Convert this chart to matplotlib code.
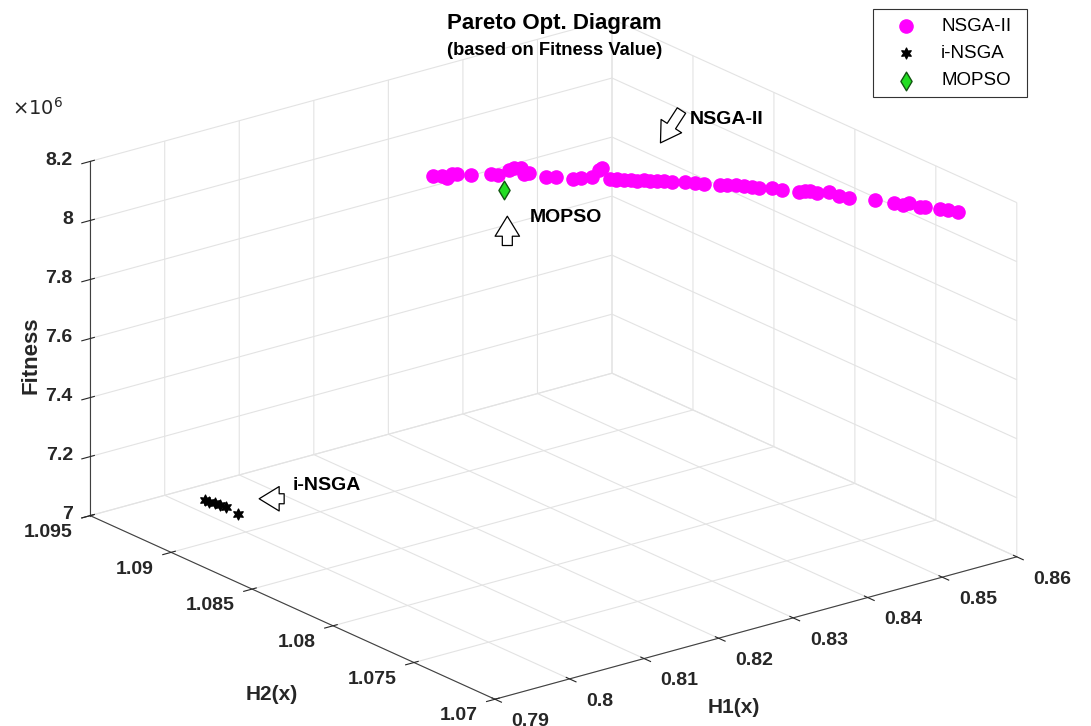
import matplotlib
matplotlib.use("Agg")
import matplotlib.pyplot as plt
from matplotlib.patches import FancyArrowPatch, Rectangle
from matplotlib.ticker import FuncFormatter

# NSGA-II pareto front (H1, H2, fitness)
nsga2_h1 = [0.8215, 0.8222, 0.8223, 0.8235, 0.8239, 0.8249, 0.8267, 0.8271, 0.8290, 0.8297,
            0.8302, 0.8295, 0.8301, 0.8308, 0.8316, 0.8327, 0.8334, 0.8346, 0.8364, 0.8372,
            0.8358, 0.8361, 0.8364, 0.8368, 0.8372, 0.8377, 0.8384, 0.8388, 0.8394, 0.8400,
            0.8403, 0.8414, 0.8421, 0.8427, 0.8439, 0.8444, 0.8451, 0.8457, 0.8462, 0.8465,
            0.8476, 0.8482, 0.8491, 0.8498, 0.8502, 0.8505, 0.8517, 0.8517, 0.8523, 0.8541,
            0.8550, 0.8555, 0.8563, 0.8566, 0.8569, 0.8579, 0.8583, 0.8587]
nsga2_h2 = [1.08836, 1.08807, 1.08781, 1.08806, 1.08794, 1.08754, 1.08715, 1.08691, 1.08706, 1.08709,
            1.08693, 1.08637, 1.08637, 1.08564, 1.08540, 1.08486, 1.08467, 1.08454, 1.08494, 1.08509,
            1.08396, 1.08376, 1.08380, 1.08356, 1.08335, 1.08319, 1.08309, 1.08288, 1.08272, 1.08256,
            1.08223, 1.08192, 1.08162, 1.08134, 1.08089, 1.08070, 1.08051, 1.08025, 1.07997, 1.07970,
            1.07939, 1.07907, 1.07845, 1.07838, 1.07826, 1.07796, 1.07777, 1.07716, 1.07684, 1.07602,
            1.07531, 1.07493, 1.07496, 1.07439, 1.07423, 1.07379, 1.07345, 1.07304]
nsga2_fit = [8.10e6] * 58

# i-NSGA solutions
insga_h1 = [0.8024, 0.8025, 0.8027, 0.8029, 0.8030, 0.8027]
insga_h2 = [1.09363, 1.09340, 1.09314, 1.09294, 1.09258, 1.09171]
insga_fit = [7.00e6, 7.00e6, 7.00e6, 7.00e6, 7.00e6, 7.00e6]

# MOPSO solution
mopso_h1 = [0.8248]
mopso_h2 = [1.08547]
mopso_fit = [8.10e6]

h1_ticks = [0.79, 0.80, 0.81, 0.82, 0.83, 0.84, 0.85, 0.86]
h2_ticks = [1.07, 1.075, 1.08, 1.085, 1.09, 1.095]
fit_ticks = [7.0e6, 7.2e6, 7.4e6, 7.6e6, 7.8e6, 8.0e6, 8.2e6]

plt.rcParams["font.family"] = ["Liberation Sans", "DejaVu Sans"]
plt.rcParams["grid.color"] = "#e3e3e3"
plt.rcParams["grid.linewidth"] = 0.8

fig = plt.figure(figsize=(10.91, 7.26), dpi=100)
ax = fig.add_axes([0.0085, 0.0021, 0.98, 0.98], projection="3d", proj_type="ortho")

sc1 = ax.scatter(nsga2_h1, nsga2_h2, nsga2_fit, s=90, c="#ff00ff", marker="o",
                 depthshade=False, label="NSGA-II")
sc2 = ax.scatter(insga_h1, insga_h2, insga_fit, s=60, c="black", marker=(6, 1, 0),
                 depthshade=False, label="i-NSGA")
sc3 = ax.scatter(mopso_h1, mopso_h2, mopso_fit, s=90, c="#22dd22", edgecolors="#115511",
                 marker="d", depthshade=False, label="MOPSO")
for sc in (sc1, sc2, sc3):
    sc.set_clip_on(False)

ax.set_xlim(0.79, 0.86)
ax.set_ylim(1.07, 1.095)
ax.set_zlim(7.0e6, 8.2e6)
ax.set_xticks(h1_ticks)
ax.set_yticks(h2_ticks)
ax.set_zticks(fit_ticks)
ax.xaxis.set_major_formatter(FuncFormatter(lambda v, p: f"{v:g}"))
ax.yaxis.set_major_formatter(FuncFormatter(lambda v, p: f"{v:g}"))
ax.zaxis.set_major_formatter(FuncFormatter(lambda v, p: f"{v / 1e6:g}"))

ax.view_init(elev=20.6, azim=-127.8)
ax.set_box_aspect((1, 1, 0.573), zoom=1.375)

# axis, tick label pad, horizontal alignment
for axis, pad, ha in ((ax.xaxis, 3, "left"), (ax.yaxis, 1, "right"), (ax.zaxis, -3, "right")):
    axis.set_pane_color((1, 1, 1, 0))
    axis.pane.set_edgecolor("#e3e3e3")
    axis.line.set_color("#404040")
    axis.set_tick_params(labelsize=14, colors="#262626", pad=pad)
    for t in axis.get_major_ticks():
        t.label1.set_fontweight("bold")
        t.label1.set_ha(ha)
        t.label1.set_va("center")

fig.text(0.011, 0.842, r"$\times10^{6}$", fontsize=14, color="#262626")
fig.text(0.028, 0.51, "Fitness", rotation=90, fontsize=16, fontweight="bold",
         ha="center", va="center", color="#262626")
fig.text(0.249, 0.043, "H2(x)", fontsize=15, fontweight="bold", ha="center", va="center",
         color="#262626")
fig.text(0.673, 0.025, "H1(x)", fontsize=15, fontweight="bold", ha="center", va="center",
         color="#262626")

fig.text(0.410, 0.960, "Pareto Opt. Diagram", fontsize=16, fontweight="bold", va="baseline")
fig.text(0.410, 0.924, "(based on Fitness Value)", fontsize=13.2, fontweight="bold", va="baseline")

fig.text(0.632, 0.835, "NSGA-II", fontsize=14, fontweight="bold", va="center")
fig.text(0.486, 0.700, "MOPSO", fontsize=14, fontweight="bold", va="center")
fig.text(0.268, 0.331, "i-NSGA", fontsize=14, fontweight="bold", va="center")

arrow_kw = dict(transform=fig.transFigure, arrowstyle="simple,head_width=1.1,head_length=0.9,tail_width=0.45",
                mutation_scale=16, facecolor="white", edgecolor="black", linewidth=0.9)
fig.patches.append(FancyArrowPatch((0.626, 0.851), (0.604, 0.800), **arrow_kw))
fig.patches.append(FancyArrowPatch((0.465, 0.658), (0.465, 0.706), **arrow_kw))
fig.patches.append(FancyArrowPatch((0.263, 0.313), (0.235, 0.313), **arrow_kw))

leg = ax.legend(loc="upper right", bbox_to_anchor=(0.9346, 0.9876), bbox_transform=fig.transFigure,
                fontsize=13.5, frameon=False, borderpad=0.45, borderaxespad=0,
                handletextpad=0.5, handlelength=2.7, labelspacing=0.55)
fig.patches.append(Rectangle((0.8002, 0.8664), 0.1412, 0.1212, transform=fig.transFigure,
                             facecolor="none", edgecolor="#333333", linewidth=0.8))

fig.savefig("out.png", dpi=100)
